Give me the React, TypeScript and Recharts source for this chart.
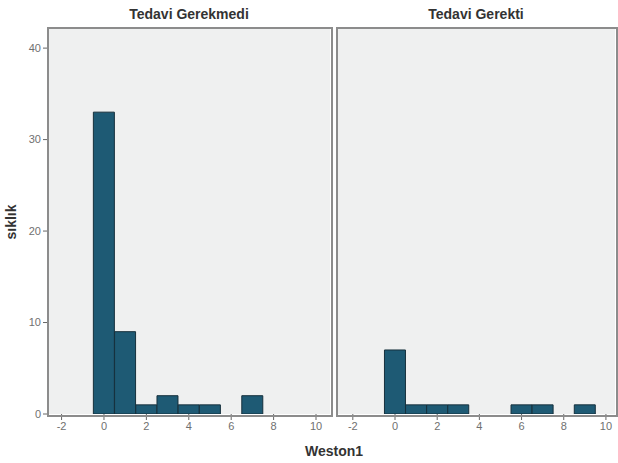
import { Bar, CartesianGrid, ComposedChart, XAxis, YAxis } from "recharts";

const weston = [0, 1, 2, 3, 4, 5, 6, 7, 8, 9];
const gerekmediCounts = [33, 9, 1, 2, 1, 1, 0, 2, 0, 0];
const gerektiCounts = [7, 1, 1, 1, 0, 0, 1, 1, 0, 1];
const xTicks = [-2, 0, 2, 4, 6, 8, 10];
const yTicks = [0, 10, 20, 30, 40];

const FONT = "'Liberation Sans', Arial, sans-serif";
const BAR_FILL = "#1e5a74";
const BAR_STROKE = "#16303c";
const PANEL_BG = "#eff0f0";
const FRAME = "#8c8c8c";

function toRows(counts: number[]) {
  return weston.map((w, i) => ({ weston: w, count: counts[i] }));
}

interface PanelProps {
  title: string;
  counts: number[];
  left: number;
  width: number;
  plotLeft: number;
  plotRight: number;
  xDomain: [number, number];
  showY: boolean;
}

const PLOT_TOP = 28;
const PLOT_BOTTOM = 414;
const HEIGHT = 463;

function Panel({ title, counts, left, width, plotLeft, plotRight, xDomain, showY }: PanelProps) {
  const plotWidth = plotRight - plotLeft;
  const barSize = Math.round(plotWidth / (xDomain[1] - xDomain[0]));
  const yAxisWidth = showY ? plotLeft - left : 0;
  const marginLeft = showY ? 0 : plotLeft - left;
  const marginRight = left + width - plotRight;
  return (
    <div style={{ position: "absolute", left, top: 0, width, height: HEIGHT }}>
      <div
        style={{
          position: "absolute",
          left: plotLeft - left,
          width: plotWidth,
          top: 6,
          textAlign: "center",
          fontWeight: "bold",
          fontSize: 14,
          color: "#333",
        }}
      >
        {title}
      </div>
      <ComposedChart
        width={width}
        height={HEIGHT}
        data={toRows(counts)}
        margin={{ top: PLOT_TOP, right: marginRight, bottom: 0, left: marginLeft }}
      >
        <CartesianGrid fill={PANEL_BG} horizontal={false} vertical={false} />
        <XAxis
          dataKey="weston"
          type="number"
          domain={xDomain}
          ticks={xTicks}
          allowDataOverflow
          height={HEIGHT - PLOT_BOTTOM}
          axisLine={false}
          tickLine={{ stroke: "#666" }}
          tickSize={6}
          tick={{ fill: "#707070", fontSize: 11, fontFamily: FONT }}
        />
        <YAxis
          hide={!showY}
          width={yAxisWidth}
          domain={[0, 42.2]}
          ticks={yTicks}
          allowDataOverflow
          axisLine={false}
          tickLine={{ stroke: "#666" }}
          tickSize={5}
          tick={{ fill: "#707070", fontSize: 11, fontFamily: FONT }}
        />
        <Bar
          dataKey="count"
          barSize={barSize}
          fill={BAR_FILL}
          stroke={BAR_STROKE}
          strokeWidth={1}
          isAnimationActive={false}
        />
      </ComposedChart>
      <div
        style={{
          position: "absolute",
          left: plotLeft - left - 1,
          top: PLOT_TOP - 1,
          width: plotWidth,
          height: PLOT_BOTTOM - PLOT_TOP,
          border: `2px solid ${FRAME}`,
          pointerEvents: "none",
        }}
      />
    </div>
  );
}

export default function App() {
  return (
    <div
      style={{
        position: "absolute",
        left: 0,
        top: 0,
        width: 618,
        height: 463,
        overflow: "hidden",
        background: "#fff",
        fontFamily: FONT,
      }}
    >
      <Panel
        title="Tedavi Gerekmedi"
        counts={gerekmediCounts}
        left={0}
        width={334}
        plotLeft={48}
        plotRight={330}
        xDomain={[-2.64, 10.66]}
        showY
      />
      <Panel
        title="Tedavi Gerekti"
        counts={gerektiCounts}
        left={334}
        width={284}
        plotLeft={337}
        plotRight={615}
        xDomain={[-2.75, 10.43]}
        showY={false}
      />
      <div
        style={{
          position: "absolute",
          left: 3,
          top: 262,
          transform: "rotate(-90deg)",
          transformOrigin: "left top",
          fontWeight: "bold",
          fontSize: 14,
          color: "#333",
          width: 80,
          textAlign: "center",
        }}
      >
        sıklık
      </div>
      <div
        style={{
          position: "absolute",
          left: 234,
          width: 200,
          top: 443,
          textAlign: "center",
          fontWeight: "bold",
          fontSize: 14,
          color: "#333",
        }}
      >
        Weston1
      </div>
    </div>
  );
}
